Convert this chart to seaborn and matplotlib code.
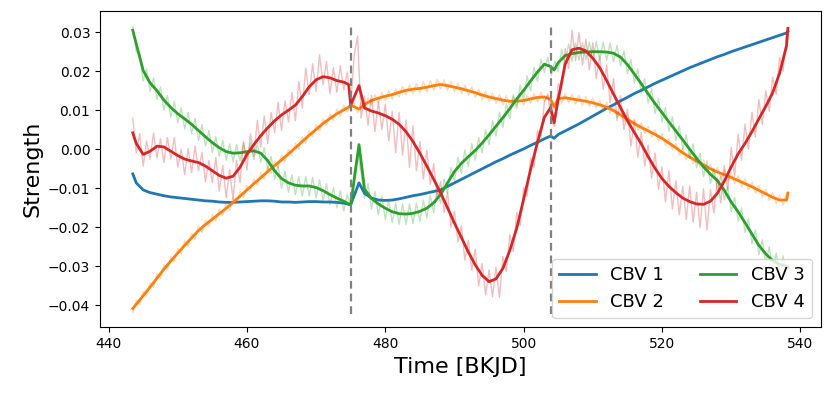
import numpy as np
import pandas as pd
import matplotlib
matplotlib.use("Agg")
import matplotlib.pyplot as plt
import seaborn as sns

# ---------------- data (strength values in units of 1e-3) ----------------
SCALE = 1e-3

t_smooth = [443.5, 444, 445, 446, 447, 448, 449, 450, 451, 452, 453, 454, 455, 456, 457, 458,
            459, 460, 461, 462, 463, 464, 465, 466, 467, 468, 469, 470, 471, 472, 473, 474,
            474.7, 475.0, 476.2,
            477, 478, 479, 480, 481, 482, 483, 484, 485, 486, 487, 488, 489, 490, 491, 492,
            493, 494, 495, 496, 497, 498, 499, 500, 501, 502, 503,
            503.9, 504.4,
            505, 506, 507, 508, 509, 510, 511, 512, 513, 514, 515, 516, 517, 518, 519, 520,
            521, 522, 523, 524, 525, 526, 527, 528, 529, 530, 531, 532, 533, 534, 535, 536,
            537, 538, 538.2]

cbv1 = [-6.3, -8.6, -10.4, -11.1, -11.5, -11.9, -12.2, -12.4, -12.6, -12.8, -13.0, -13.2, -13.3, -13.5, -13.6, -13.6,
        -13.5, -13.4, -13.3, -13.2, -13.2, -13.3, -13.5, -13.5, -13.6, -13.5, -13.4, -13.4, -13.5, -13.5, -13.6, -13.8,
        -14.1, -14.2, -8.6,
        -11.3, -12.5, -13.0, -13.1, -13.0, -12.7, -12.3, -11.9, -11.6, -11.2, -10.8, -10.4, -9.5, -8.6, -7.7, -6.8,
        -5.9, -5.0, -4.1, -3.2, -2.4, -1.5, -0.7, 0.1, 1.0, 1.8, 2.7,
        3.4, 2.8,
        3.8, 4.7, 5.6, 6.5, 7.5, 8.5, 9.5, 10.5, 11.4, 12.4, 13.3, 14.3, 15.1, 16.0, 16.9, 17.7,
        18.5, 19.3, 20.1, 20.9, 21.6, 22.3, 23.0, 23.7, 24.3, 25.0, 25.6, 26.2, 26.8, 27.4, 28.0, 28.6,
        29.2, 29.8, 30.2]

cbv2 = [-40.8, -39.7, -37.5, -35.3, -33.0, -30.7, -28.6, -26.6, -24.6, -22.7, -20.8, -19.3, -17.9, -16.5, -15.1, -13.6,
        -12.0, -10.4, -8.8, -7.3, -5.7, -4.2, -2.7, -1.2, 0.4, 2.0, 3.6, 5.1, 6.6, 7.9, 9.1, 10.1,
        10.8, 11.3, 10.3,
        11.5, 12.5, 13.1, 13.6, 14.0, 14.6, 15.1, 15.4, 15.6, 15.9, 16.3, 16.6, 16.3, 15.9, 15.5, 15.0,
        14.5, 13.9, 13.4, 13.0, 12.6, 12.3, 12.3, 12.5, 12.9, 13.3, 13.4,
        12.8, 10.9,
        13.0, 13.2, 12.9, 12.6, 12.3, 11.9, 11.4, 10.8, 9.9, 8.8, 7.7, 6.6, 5.6, 4.7, 3.8, 2.8,
        1.6, 0.4, -0.9, -2.0, -3.0, -4.0, -5.0, -5.8, -6.5, -7.2, -8.0, -8.8, -9.6, -10.5, -11.4, -12.3,
        -13.0, -13.0, -11.2]

cbv3 = [30.5, 27.0, 20.2, 17.0, 15.0, 12.6, 10.7, 9.1, 7.8, 6.4, 4.8, 3.2, 1.7, 0.4, -0.6, -1.0,
        -0.9, -0.6, -0.4, -1.0, -2.9, -5.5, -7.5, -8.6, -9.2, -9.4, -9.4, -9.8, -10.6, -11.6, -12.5, -13.3,
        -14.0, -14.3, 1.2,
        -10.2, -12.6, -14.0, -15.1, -16.0, -16.5, -16.6, -16.4, -15.9, -15.1, -13.7, -11.6, -8.6, -5.7, -3.6, -1.9,
        -0.3, 1.6, 3.7, 5.9, 8.1, 10.4, 12.9, 15.1, 17.5, 19.8, 21.8,
        21.2, 20.3,
        22.2, 24.0, 24.5, 24.8, 24.9, 25.0, 25.0, 24.9, 24.6, 23.6, 21.7, 19.3, 16.8, 14.2, 11.7, 9.4,
        7.0, 4.7, 2.4, 0.0, -2.3, -4.5, -6.4, -8.0, -10.5, -13.5, -16.0, -18.8, -21.7, -24.6, -26.8, -28.5,
        -29.5, -30.0, -30.2]

cbv4 = [4.2, 1.5, -1.3, -0.5, 0.8, 0.6, -0.5, -1.6, -2.5, -3.0, -3.4, -4.3, -5.5, -6.7, -7.4, -6.9,
        -4.6, -1.3, 1.2, 3.5, 5.5, 7.3, 8.8, 10.0, 11.3, 13.5, 16.0, 17.8, 18.6, 18.3, 17.6, 17.2,
        16.6, 11.3, 16.3,
        10.6, 9.8, 9.3, 8.6, 7.7, 6.4, 4.5, 2.0, -1.0, -4.3, -7.7, -11.2, -15.0, -18.9, -22.6, -26.3,
        -29.6, -32.3, -33.9, -33.2, -30.5, -25.9, -20.2, -12.8, -5.2, 1.8, 8.2,
        10.7, 6.8,
        12.8, 21.8, 25.5, 25.9, 25.2, 23.3, 20.9, 17.6, 14.1, 10.7, 7.3, 4.3, 1.4, -1.9, -4.9, -7.5,
        -9.5, -11.1, -12.5, -13.4, -14.0, -14.1, -13.3, -11.3, -8.2, -4.5, -1.2, 1.5, 4.5, 7.8, 11.0, 14.5,
        19.5, 26.5, 31.0]

# raw (unsmoothed) basis vectors, sampled every half day
t_raw = [443.5, 444.0, 444.5, 445.0, 445.5, 446.0, 446.5, 447.0, 447.5, 448.0,
         448.5, 449.0, 449.5, 450.0, 450.5, 451.0, 451.5, 452.0, 452.5, 453.0,
         453.5, 454.0, 454.5, 455.0, 455.5, 456.0, 456.5, 457.0, 457.5, 458.0,
         458.5, 459.0, 459.5, 460.0, 460.5, 461.0, 461.5, 462.0, 462.5, 463.0,
         463.5, 464.0, 464.5, 465.0, 465.5, 466.0, 466.5, 467.0, 467.5, 468.0,
         468.5, 469.0, 469.5, 470.0, 470.5, 471.0, 471.5, 472.0, 472.5, 473.0,
         473.5, 474.0, 474.5, 475.0, 475.5, 476.0, 476.5, 477.0, 477.5, 478.0,
         478.5, 479.0, 479.5, 480.0, 480.5, 481.0, 481.5, 482.0, 482.5, 483.0,
         483.5, 484.0, 484.5, 485.0, 485.5, 486.0, 486.5, 487.0, 487.5, 488.0,
         488.5, 489.0, 489.5, 490.0, 490.5, 491.0, 491.5, 492.0, 492.5, 493.0,
         493.5, 494.0, 494.5, 495.0, 495.5, 496.0, 496.5, 497.0, 497.5, 498.0,
         498.5, 499.0, 499.5, 500.0, 500.5, 501.0, 501.5, 502.0, 502.5, 503.0,
         503.5, 504.0, 504.5, 505.0, 505.5, 506.0, 506.5, 507.0, 507.5, 508.0,
         508.5, 509.0, 509.5, 510.0, 510.5, 511.0, 511.5, 512.0, 512.5, 513.0,
         513.5, 514.0, 514.5, 515.0, 515.5, 516.0, 516.5, 517.0, 517.5, 518.0,
         518.5, 519.0, 519.5, 520.0, 520.5, 521.0, 521.5, 522.0, 522.5, 523.0,
         523.5, 524.0, 524.5, 525.0, 525.5, 526.0, 526.5, 527.0, 527.5, 528.0,
         528.5, 529.0, 529.5, 530.0, 530.5, 531.0, 531.5, 532.0, 532.5, 533.0,
         533.5, 534.0, 534.5, 535.0, 535.5, 536.0, 536.5, 537.0, 537.5, 538.0]

raw2 = [-41.8, -38.6, -39.8, -36.4, -37.6, -34.1, -35.4, -31.8, -33.1, -29.5,
        -30.9, -27.4, -28.8, -25.4, -26.8, -23.4, -24.9, -21.5, -23.0, -19.6,
        -21.3, -18.1, -19.8, -16.7, -18.4, -15.3, -17.0, -13.9, -15.6, -12.4,
        -14.0, -10.8, -12.4, -9.2, -10.8, -7.6, -9.3, -6.1, -7.7, -4.5,
        -6.2, -3.0, -4.7, -1.5, -3.2, 0.0, -1.6, 1.6, 0.0, 3.2,
        1.6, 4.8, 3.2, 6.3, 4.7, 7.8, 6.1, 9.1, 7.3, 10.3,
        8.4, 11.3, 9.6, 11.3, 11.9, 9.4, 12.0, 10.3, 13.2, 11.3,
        14.0, 11.9, 14.6, 12.4, 15.0, 12.8, 15.5, 13.4, 16.1, 13.9,
        16.5, 14.2, 16.9, 14.4, 17.4, 14.7, 17.6, 15.1, 17.9, 15.4,
        17.8, 15.1, 17.4, 14.7, 16.9, 14.3, 16.5, 13.8, 16.0, 13.3,
        15.4, 12.7, 14.9, 12.2, 14.4, 11.8, 14.0, 11.4, 13.7, 11.1,
        13.5, 11.1, 13.6, 11.3, 13.9, 11.7, 14.3, 12.1, 14.6, 12.2,
        14.3, 11.0, 10.2, 14.2, 11.9, 14.4, 11.9, 14.1, 11.6, 13.8,
        11.3, 13.5, 10.9, 13.1, 10.5, 12.6, 9.9, 12.0, 9.2, 11.1,
        8.2, 10.0, 7.1, 8.9, 6.0, 7.8, 4.9, 6.8, 4.0, 5.9,
        3.1, 5.0, 2.1, 4.0, 1.0, 2.8, -0.2, 1.6, -1.5, 0.3,
        -2.7, -0.8, -3.7, -1.8, -4.7, -2.8, -5.7, -3.8, -6.6, -4.6,
        -7.4, -5.3, -8.1, -6.0, -8.8, -6.8, -9.6, -7.6, -10.4, -8.4,
        -11.3, -9.3, -12.2, -10.2, -13.1, -11.1, -13.9, -11.8, -14.3, -11.3]

raw3 = [31.5, 25.0, 24.8, 17.5, 20.6, 14.8, 18.3, 12.8, 16.0, 10.0,
        13.8, 8.2, 12.3, 6.8, 10.6, 5.2, 9.4, 4.0, 8.0, 2.2,
        6.3, 0.8, 4.8, -0.8, 3.2, -1.8, 2.3, -2.8, 1.4, -3.2,
        1.2, -3.0, 1.6, -2.6, 1.7, -2.6, 1.5, -3.3, 0.4, -5.2,
        -1.8, -7.8, -4.0, -10.0, -5.6, -11.0, -6.5, -11.6, -7.0, -12.0,
        -7.0, -12.0, -7.2, -12.5, -7.8, -13.2, -8.8, -14.2, -9.8, -15.0,
        -10.6, -15.8, -11.6, -14.3, -6.0, -1.0, -6.0, -12.6, -8.8, -15.3,
        -10.8, -16.8, -12.0, -18.0, -13.0, -18.8, -13.8, -19.2, -14.0, -19.3,
        -14.0, -19.0, -13.8, -18.4, -13.0, -17.6, -11.8, -16.3, -10.2, -14.0,
        -7.6, -11.2, -4.6, -8.2, -2.0, -6.2, -0.2, -4.4, 1.4, -2.8,
        3.0, -0.9, 5.0, 1.2, 7.3, 3.4, 9.5, 5.6, 11.7, 7.8,
        14.0, 10.4, 16.5, 12.6, 18.8, 15.0, 21.0, 17.4, 23.0, 19.6,
        23.6, 19.0, 22.6, 20.0, 25.6, 22.0, 27.0, 22.5, 27.2, 22.8,
        27.4, 23.0, 27.5, 23.0, 27.6, 23.0, 27.4, 22.8, 27.2, 22.4,
        26.6, 21.4, 25.2, 19.4, 23.0, 17.0, 20.6, 14.4, 18.0, 11.8,
        15.5, 9.2, 13.0, 7.0, 10.7, 4.6, 8.3, 2.2, 6.0, 0.0,
        3.7, -2.4, 1.4, -4.7, -1.0, -7.0, -3.0, -8.8, -4.8, -10.5,
        -6.8, -13.0, -9.6, -16.0, -12.3, -18.4, -15.0, -21.3, -17.8, -24.2,
        -20.7, -27.0, -23.2, -29.3, -25.0, -31.0, -26.6, -32.0, -27.3, -32.5]

raw4 = [8.0, -1.0, 4.0, -4.3, 2.1, -2.5, 4.2, -2.2, 2.7, -3.4,
        3.0, -2.5, 3.0, -4.6, 0.0, -6.5, 0.2, -6.0, 0.8, -5.4,
        -0.8, -8.3, -2.9, -8.5, -2.1, -10.7, -4.1, -12.4, -5.2, -12.9,
        -2.8, -8.6, 2.0, -5.3, 4.0, -1.8, 7.4, 0.5, 8.5, 1.5,
        9.4, 4.3, 12.0, 4.8, 12.4, 7.0, 14.6, 7.3, 17.4, 10.5,
        20.8, 14.0, 21.9, 14.8, 24.2, 16.6, 22.5, 14.3, 20.9, 14.6,
        21.4, 15.2, 19.8, 11.3, 24.0, 29.0, 8.0, 13.6, 6.2, 13.8,
        4.5, 12.3, 5.0, 11.6, 2.2, 9.7, -0.9, 9.4, -1.5, 7.5,
        -4.7, 6.0, -5.5, 2.0, -7.6, -0.3, -9.0, -3.7, -12.4, -8.2,
        -16.1, -11.0, -20.0, -15.9, -23.7, -19.6, -28.4, -23.3, -31.0, -25.6,
        -35.0, -29.3, -37.3, -30.9, -37.8, -30.2, -38.0, -27.5, -31.3, -21.9,
        -26.2, -16.2, -19.5, -9.8, -12.0, -2.2, -4.7, 4.8, 3.0, 12.2,
        13.8, 7.0, 5.9, 16.8, 15.3, 25.8, 20.7, 30.5, 22.7, 29.9,
        21.6, 28.2, 20.3, 27.3, 18.1, 23.9, 15.3, 21.6, 11.9, 18.1,
        7.4, 13.7, 5.0, 10.3, 0.8, 7.3, -2.1, 4.4, -4.3, 1.1,
        -7.4, -0.9, -10.2, -4.5, -13.5, -5.5, -15.3, -8.1, -16.8, -9.5,
        -18.0, -9.4, -18.7, -11.0, -20.1, -10.1, -20.7, -10.3, -16.3, -7.3,
        -13.8, -4.2, -10.4, 0.5, -6.9, 3.8, -2.8, 6.5, 0.0, 9.5,
        3.2, 12.8, 6.4, 15.0, 9.8, 18.5, 14.0, 23.5, 20.0, 29.5]

labels = ["CBV 1", "CBV 2", "CBV 3", "CBV 4"]
colors = ["#1f77b4", "#ff7f0e", "#2ca02c", "#d62728"]
gap_times = [475.0, 503.9]
yticks = [-0.04, -0.03, -0.02, -0.01, 0.00, 0.01, 0.02, 0.03]
xticks = [440, 460, 480, 500, 520, 540]

smooth_series = [cbv1, cbv2, cbv3, cbv4]
raw_series = [None, raw2, raw3, raw4]

# ---------------- plotting ----------------
fig, ax = plt.subplots(figsize=(8.31, 3.96), dpi=100)
fig.subplots_adjust(left=100 / 831, right=820.7 / 831,
                    bottom=1 - 327.3 / 396, top=1 - 10.7 / 396)

handles = []
for lab, col, sm, rw in zip(labels, colors, smooth_series, raw_series):
    if rw is not None:
        sns.lineplot(x=np.array(t_raw), y=np.array(rw) * SCALE, ax=ax, color=col,
                     lw=1.0, alpha=0.3, estimator=None, sort=False, legend=False)
    sns.lineplot(x=np.array(t_smooth), y=np.array(sm) * SCALE, ax=ax, color=col,
                 lw=2.0, estimator=None, sort=False, legend=False)
    handles.append(ax.lines[-1])

ax.vlines(gap_times, -0.0421, 0.0318, colors="grey", linestyles=(0, (3.5, 2.2)), lw=1.6)

ax.set_xlim(438.76, 542.94)
ax.set_ylim(-0.0456, 0.0355)
ax.set_xticks(xticks)
ax.set_yticks(yticks)
ax.set_yticklabels(["\u22120.04", "\u22120.03", "\u22120.02", "\u22120.01",
                    "0.00", "0.01", "0.02", "0.03"])
ax.tick_params(labelsize=10)
ax.set_xlabel("Time [BKJD]", fontsize=16)
ax.set_ylabel("Strength", fontsize=16)

ax.legend(handles, labels, loc="lower right", ncol=2, fontsize=13)

fig.savefig("out.png", dpi=100)
